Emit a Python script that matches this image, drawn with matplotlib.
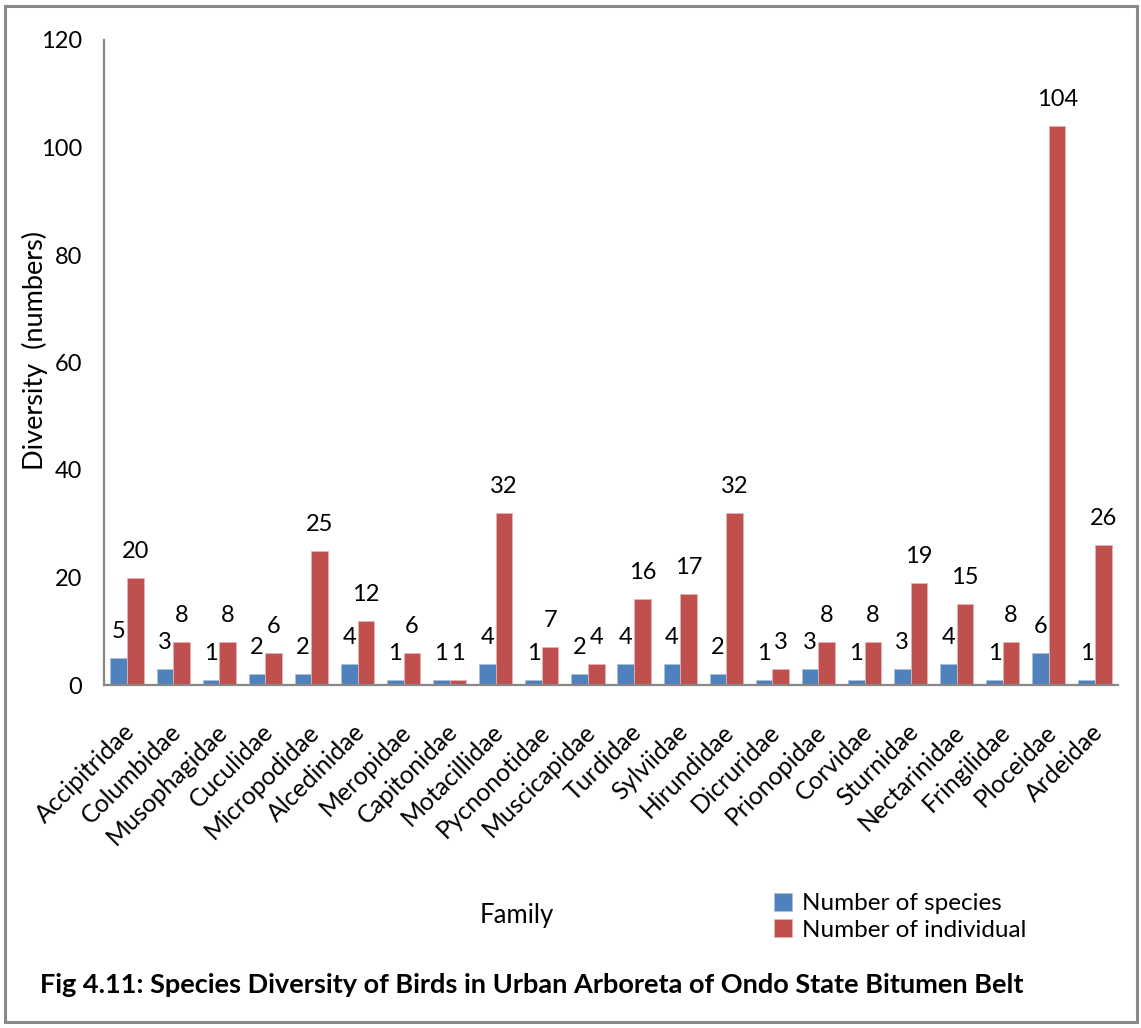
import matplotlib
matplotlib.use("Agg")
import matplotlib.pyplot as plt
from matplotlib.patches import Rectangle
from matplotlib.transforms import ScaledTranslation
import numpy as np

families = ["Accipitridae", "Columbidae", "Musophagidae", "Cuculidae", "Micropodidae",
            "Alcedinidae", "Meropidae", "Capitonidae", "Motacillidae", "Pycnonotidae",
            "Muscicapidae", "Turdidae", "Sylviidae", "Hirundidae", "Dicruridae",
            "Prionopidae", "Corvidae", "Sturnidae", "Nectarinidae", "Fringilidae",
            "Ploceidae", "Ardeidae"]
n_species = [5, 3, 1, 2, 2, 4, 1, 1, 4, 1, 2, 4, 4, 2, 1, 3, 1, 3, 4, 1, 6, 1]
n_individual = [20, 8, 8, 6, 25, 12, 6, 1, 32, 7, 4, 16, 17, 32, 3, 8, 8, 19, 15, 8, 104, 26]
y_ticks = [0, 20, 40, 60, 80, 100, 120]

plt.rcParams["font.family"] = ["Lato", "DejaVu Sans"]

W, H = 1141, 1028
fig = plt.figure(figsize=(W / 100, H / 100), dpi=100)
fig.patch.set_facecolor("white")

# outer frame of the figure
fig.add_artist(Rectangle((5 / W, 6 / H), (1137 - 5) / W, (1022 - 6) / H,
                         transform=fig.transFigure, fill=False,
                         edgecolor="#8a8a8a", linewidth=2.2))

ax = fig.add_axes([104 / W, 1 - 685 / H, (1118 - 104) / W, (685 - 40) / H])

x = np.arange(len(families))
bw = 0.36
blue = "#4F81BD"
red = "#C0504D"
b1 = ax.bar(x - bw / 2, n_species, bw, color=blue, edgecolor="#a9c0de", linewidth=0.6,
            label="Number of species")
b2 = ax.bar(x + bw / 2, n_individual, bw, color=red, edgecolor="#e3b4b3", linewidth=0.6,
            label="Number of individual")

for bars in (b1, b2):
    for rect in bars:
        v = rect.get_height()
        ax.annotate(f"{v:g}", (rect.get_x() + rect.get_width() / 2, v),
                    xytext=(0, 19), textcoords="offset points",
                    ha="center", va="center", fontsize=17)

ax.set_xlim(-0.5, len(families) - 0.5)
ax.set_ylim(0, 120)
ax.set_yticks(y_ticks)
ax.set_yticklabels([str(t) for t in y_ticks], fontsize=17)
ax.tick_params(axis="y", length=0, pad=16)
ax.set_xticks(x)
ax.set_xticklabels(families, rotation=45, ha="right", va="center",
                   rotation_mode="anchor", fontsize=17.8)
ax.tick_params(axis="x", length=0, pad=31)
# nudge the rotated family names slightly to the right
shift = ScaledTranslation(4 / 100, 0, fig.dpi_scale_trans)
for lbl in ax.get_xticklabels():
    lbl.set_transform(lbl.get_transform() + shift)

for side in ("top", "right"):
    ax.spines[side].set_visible(False)
for side in ("left", "bottom"):
    ax.spines[side].set_color("#878787")
    ax.spines[side].set_linewidth(1.6)

fig.text(35 / W, 1 - 350 / H, "Diversity  (numbers)", rotation=90,
         ha="center", va="center", fontsize=19.5)
fig.text(517 / W, 1 - 916 / H, "Family", ha="center", va="center", fontsize=18.5)

fig.legend(handles=[b1, b2], loc="upper left", bbox_to_anchor=(774 / W, 1 - 893 / H),
           frameon=False, fontsize=17.5, handlelength=0.75, handleheight=0.75,
           handletextpad=0.4, labelspacing=0.2, borderpad=0, borderaxespad=0)

fig.text(40 / W, 1 - 985 / H,
         "Fig 4.11: Species Diversity of Birds in Urban Arboreta of Ondo State Bitumen Belt",
         ha="left", va="center", fontsize=19.55, fontweight="bold")

fig.savefig("out.png", dpi=100, facecolor="white")
